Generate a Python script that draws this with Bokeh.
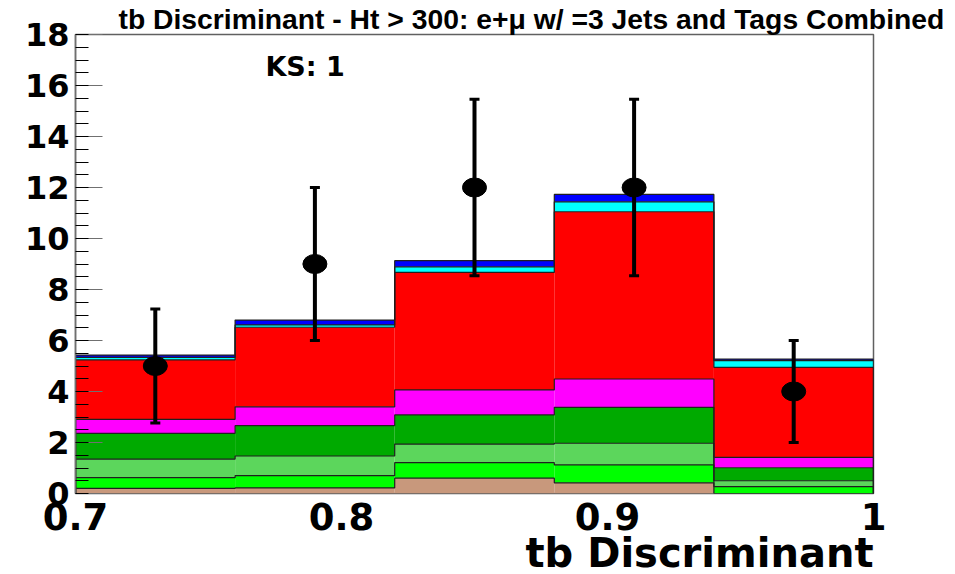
import numpy as np
from bokeh.plotting import figure
from bokeh.models import Range1d, FixedTicker, Label, Whisker, TeeHead, ColumnDataSource, Title
from bokeh.embed import file_html
from bokeh.resources import INLINE

# Histogram binning of the tb discriminant
bin_edges = [0.70, 0.76, 0.82, 0.88, 0.94, 1.00]

# Expected yields per bin for each process (stacked bottom to top)
tb_signal = [0.20, 0.22, 0.60, 0.42, 0.00]
tqb_signal = [0.42, 0.48, 0.61, 0.70, 0.27]
wbb = [0.73, 0.77, 0.73, 0.85, 0.23]
wcc = [1.01, 1.19, 1.14, 1.41, 0.51]
wjj = [0.55, 0.74, 0.98, 1.11, 0.41]
ttbar = [2.33, 3.12, 4.61, 6.56, 3.53]
zjets = [0.10, 0.09, 0.22, 0.39, 0.26]
diboson = [0.09, 0.19, 0.24, 0.29, 0.06]

process_yields = [tb_signal, tqb_signal, wbb, wcc, wjj, ttbar, zjets, diboson]
process_colors = ["#c8987c", "#00ff00", "#5cd65c", "#00aa00",
                  "#ff00ff", "#ff0000", "#00ffff", "#0000ff"]

# Observed events per bin
data_counts = [5, 9, 12, 12, 4]

xtick_values = [0.7, 0.8, 0.9, 1.0]
xtick_labels = ["0.7", "0.8", "0.9", "1"]
ytick_values = list(range(0, 19, 2))

edges = np.array(bin_edges)
left, right = edges[:-1], edges[1:]
centers = 0.5 * (left + right)

p = figure(width=955, height=574, x_range=Range1d(0.7, 1.0), y_range=Range1d(0, 18),
           output_backend="svg", toolbar_location=None,
           min_border_left=75, min_border_right=82, min_border_top=34, min_border_bottom=81)
p.grid.visible = False
p.background_fill_color = "white"
p.border_fill_color = "white"
p.outline_line_color = "#606060"
p.outline_line_width = 1.5

# Title above the frame
p.title.text = "tb Discriminant - Ht > 300: e+\u03bc w/ =3 Jets and Tags Combined"
p.title.align = "left"
p.title.offset = 43
p.title.standoff = 0
p.title.text_font = "Liberation Sans"
p.title.text_font_style = "bold"
p.title.text_font_size = "28.3px"
p.title.text_line_height = 1.0
p.title.text_color = "black"

# Stacked filled bins
bottom = np.zeros(len(left))
tops = []
for yields, color in zip(process_yields, process_colors):
    top = bottom + np.array(yields)
    p.quad(left=left, right=right, bottom=bottom, top=top,
           fill_color=color, line_color=None)
    tops.append(top)
    bottom = top

# Step outlines of every stacked histogram
for top in tops:
    xs = [edges[0]]
    ys = [0.0]
    for i in range(len(top)):
        xs += [left[i], right[i]]
        ys += [top[i], top[i]]
    xs.append(edges[-1])
    ys.append(0.0)
    p.line(xs, ys, line_color="#202020", line_width=1.2)

# Data points with Poisson errors
counts = np.array(data_counts, dtype=float)
err = np.sqrt(counts)
src = ColumnDataSource(dict(x=centers, y=counts, lo=counts - err, hi=counts + err))
p.ellipse(x="x", y="y", width=24, height=19, width_units="screen", height_units="screen",
          source=src, fill_color="black", line_color="black")
whisk = Whisker(source=src, base="x", upper="hi", lower="lo", dimension="height",
                line_color="black", line_width=4, level="overlay",
                upper_head=TeeHead(size=10, line_color="black", line_width=3),
                lower_head=TeeHead(size=10, line_color="black", line_width=3))
p.add_layout(whisk)

# Axes
p.yaxis.ticker = FixedTicker(ticks=ytick_values, minor_ticks=[0.5 * i for i in range(37)])
p.yaxis.major_tick_in = 27
p.yaxis.major_tick_out = 0
p.yaxis.minor_tick_in = 13
p.yaxis.minor_tick_out = 0
p.yaxis.major_tick_line_color = "#707070"
p.yaxis.minor_tick_line_color = "black"
p.yaxis.axis_line_color = "#707070"
p.yaxis.axis_line_width = 1.5
p.yaxis.major_label_text_font = "DejaVu Sans"
p.yaxis.major_label_text_font_style = "bold"
p.yaxis.major_label_text_font_size = "32px"
p.yaxis.major_label_text_color = "black"
p.yaxis.major_label_standoff = 6

p.xaxis.ticker = FixedTicker(ticks=xtick_values, minor_ticks=[])
p.xaxis.major_label_overrides = {v: s for v, s in zip(xtick_values, xtick_labels)}
p.xaxis.major_tick_line_color = None
p.xaxis.minor_tick_line_color = None
p.xaxis.axis_line_color = None
p.xaxis.major_label_text_font = "DejaVu Sans"
p.xaxis.major_label_text_font_style = "bold"
p.xaxis.major_label_text_font_size = "37px"
p.xaxis.major_label_text_color = "black"
p.xaxis.major_label_standoff = 3

# x-axis title, right-aligned under the frame
p.add_layout(Title(text="tb Discriminant", align="right", standoff=-9,
                   text_font="DejaVu Sans", text_font_style="bold",
                   text_font_size="40px", text_line_height=1.0, text_color="black"), "below")

p.add_layout(Label(x=0.7714, y=16.76, text="KS: 1", text_align="left",
                   text_baseline="alphabetic", text_font="DejaVu Sans",
                   text_font_style="bold", text_font_size="27px", text_color="black"))

open("out.html", "w").write(file_html(p, INLINE))
